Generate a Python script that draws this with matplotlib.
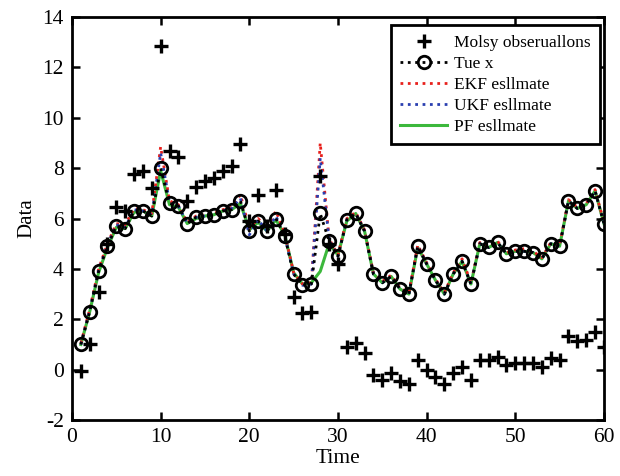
import matplotlib
matplotlib.use("Agg")
import matplotlib.pyplot as plt

plt.rcParams['font.family'] = ['Liberation Serif', 'DejaVu Serif']
plt.rcParams['axes.unicode_minus'] = False

time = list(range(1, 61))

true_x = [1.0, 2.3, 3.9, 4.9, 5.7, 5.6, 6.3, 6.3, 6.1, 8.0,
          6.6, 6.5, 5.8, 6.05, 6.1, 6.15, 6.3, 6.35, 6.7, 5.5,
          5.9, 5.5, 6.0, 5.3, 3.8, 3.35, 3.4, 6.2, 5.1, 4.5,
          5.95, 6.2, 5.5, 3.8, 3.45, 3.7, 3.2, 3.0, 4.9, 4.2,
          3.55, 3.0, 3.8, 4.3, 3.4, 5.0, 4.85, 5.05, 4.6, 4.7,
          4.7, 4.65, 4.4, 5.0, 4.9, 6.7, 6.4, 6.55, 7.1, 5.8]

observations = [-0.05, 1.0, 3.1, 5.0, 6.45, 6.3, 7.75, 7.9, 7.2, 12.85,
                8.7, 8.45, 6.7, 7.25, 7.5, 7.6, 7.9, 8.1, 8.95, 5.9,
                6.95, 5.7, 7.15, 5.4, 2.9, 2.25, 2.3, 7.7, 5.0, 4.2,
                0.9, 1.05, 0.65, -0.2, -0.4, -0.15, -0.45, -0.55, 0.4, 0.0,
                -0.3, -0.55, -0.13, 0.1, -0.4, 0.4, 0.38, 0.5, 0.2, 0.26,
                0.26, 0.26, 0.1, 0.45, 0.4, 1.32, 1.12, 1.18, 1.5, 0.88]

ekf_est = [1.05, 2.4, 4.0, 5.0, 5.8, 5.75, 6.4, 6.35, 6.2, 8.85,
           6.7, 6.55, 5.85, 6.1, 6.15, 6.2, 6.35, 6.45, 6.95, 5.6,
           6.0, 5.6, 6.3, 5.4, 3.85, 3.4, 3.45, 9.0, 5.2, 4.55,
           6.0, 6.25, 5.55, 3.85, 3.5, 3.75, 3.25, 3.05, 4.95, 4.25,
           3.6, 3.05, 3.85, 4.4, 3.45, 5.05, 4.9, 5.1, 4.65, 4.75,
           4.8, 4.7, 4.45, 5.05, 4.95, 6.75, 6.45, 6.6, 7.15, 5.85]

ukf_est = [1.0, 2.35, 3.95, 4.95, 5.75, 5.65, 6.35, 6.3, 6.15, 8.6,
           6.65, 6.5, 5.8, 6.05, 6.1, 6.15, 6.3, 6.4, 6.8, 5.35,
           5.95, 5.5, 6.1, 5.3, 3.8, 3.35, 3.4, 8.4, 5.15, 4.5,
           5.95, 6.2, 5.5, 3.8, 3.45, 3.7, 3.2, 3.0, 4.9, 4.2,
           3.55, 3.0, 3.8, 4.3, 3.4, 5.0, 4.85, 5.05, 4.6, 4.7,
           4.7, 4.65, 4.4, 5.0, 4.9, 6.7, 6.4, 6.55, 7.1, 5.8]

pf_est = [1.0, 2.3, 3.85, 4.85, 5.65, 5.6, 6.25, 6.3, 6.1, 7.9,
          6.55, 6.45, 5.8, 6.0, 6.1, 6.15, 6.3, 6.35, 6.6, 5.55,
          5.85, 5.5, 5.95, 5.35, 3.85, 3.4, 3.45, 3.9, 5.0, 4.55,
          5.9, 6.2, 5.5, 3.8, 3.45, 3.7, 3.2, 3.0, 4.85, 4.2,
          3.55, 3.0, 3.8, 4.3, 3.4, 5.0, 4.85, 5.05, 4.6, 4.7,
          4.7, 4.65, 4.4, 5.0, 4.9, 6.7, 6.4, 6.55, 7.1, 5.8]

labels = ['Molsy obseruallons', 'Tue x', 'EKF esllmate', 'UKF esllmate', 'PF esllmate']
x_ticks = [0, 10, 20, 30, 40, 50, 60]
y_ticks = [-2, 0, 2, 4, 6, 8, 10, 12, 14]

fig = plt.figure(figsize=(6.2, 4.76), dpi=100)
ax = fig.add_axes([0.1161, 0.1176, 0.858, 0.8466])

h_pf, = ax.plot(time, pf_est, '-', color='#3cb83c', lw=2.2, zorder=2)
h_ekf, = ax.plot(time, ekf_est, ':', color='#e8201c', lw=2.0, zorder=3)
h_ukf, = ax.plot(time, ukf_est, ':', color='#2a3fb0', lw=2.0, zorder=4)
h_true, = ax.plot(time, true_x, ':', color='black', lw=2.0, marker='o',
                  markersize=9, markerfacecolor='none', markeredgewidth=2.0,
                  markeredgecolor='black', zorder=5)
h_obs, = ax.plot(time, observations, linestyle='none', marker='+', color='black',
                 markersize=10, markeredgewidth=2.4, zorder=6)

ax.set_xlim(0, 60)
ax.set_ylim(-2, 14)
ax.set_xticks(x_ticks)
ax.set_yticks(y_ticks)
ax.tick_params(direction='in', length=6, width=1.8, top=True, right=True,
               labelsize=15.5, pad=6)
for s in ax.spines.values():
    s.set_linewidth(2.0)

ax.set_xlabel('Time', fontsize=15.5, labelpad=1)
ax.set_ylabel('Data', fontsize=15, labelpad=4)

leg = ax.legend([h_obs, h_true, h_ekf, h_ukf, h_pf], labels,
                loc='upper right', bbox_to_anchor=(0.993, 0.98),
                fontsize=12.5, frameon=True, fancybox=False,
                handlelength=2.7, handletextpad=0.4, labelspacing=0.28,
                borderpad=0.55, borderaxespad=0.0)
leg.get_frame().set_edgecolor('black')
leg.get_frame().set_linewidth(2.0)
leg.get_frame().set_alpha(1)

fig.savefig('out.png', dpi=100)
